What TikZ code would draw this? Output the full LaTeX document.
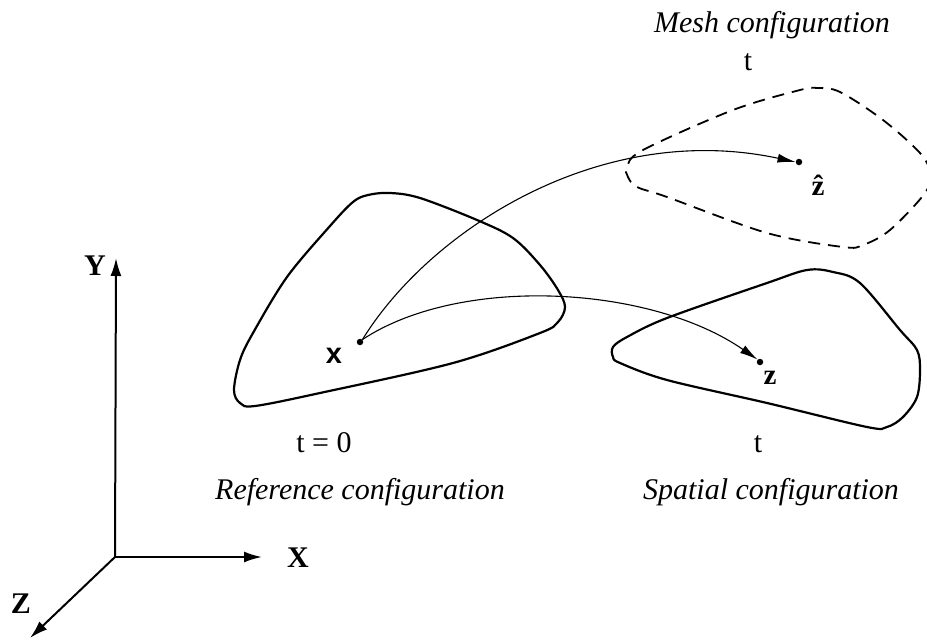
\documentclass[tikz,border=0pt]{standalone}
\usepackage{fontspec}
\setmainfont{Liberation Serif}
\newfontfamily\lsans{Liberation Sans}
\usetikzlibrary{arrows.meta}
\begin{document}
\begin{tikzpicture}[x=1pt,y=-1pt,
  blob/.style={line width=2.2pt,line join=round},
  meshblob/.style={line width=1.8pt,dash pattern=on 12pt off 8pt},
  mapping/.style={line width=1.1pt,-{Latex[length=18pt,width=9pt]}},
  axis/.style={line width=2pt,-{Latex[length=18pt,width=11pt]}},
  pt/.style={circle,fill=black,inner sep=0pt,minimum size=6.5pt},
  lab/.style={font=\fontsize{30}{34}\selectfont,anchor=base,inner sep=0pt},
  ilab/.style={font=\fontsize{30}{34}\selectfont\itshape,anchor=base,inner sep=0pt},
  blab/.style={font=\fontsize{29}{32}\selectfont\bfseries,inner sep=0pt},
  axlab/.style={font=\fontsize{30}{32}\selectfont\bfseries,inner sep=0pt}]
\useasboundingbox (0,0) rectangle (927,643);
% reference configuration
\draw[blob] plot[smooth cycle,tension=0.55] coordinates {(353,202) (368,195) (390,193) (420,198) (477,220) (513,238) (540,265) (558,290) (565,307) (558,322) (540,333) (453,363) (320,393) (255,406) (240,403) (234,390) (240,360) (253,333) (287,277) (330,226)};
% spatial configuration
\draw[blob] plot[smooth cycle,tension=0.55] coordinates {(613,347) (627,337) (667,318) (767,283) (807,270) (833,272) (860,283) (900,330) (917,350) (920,370) (917,397) (903,417) (887,427) (867,427) (767,403) (667,380) (620,363) (613,357)};
% mesh configuration
\draw[meshblob] plot[smooth cycle,tension=0.55] coordinates {(627,167) (643,150) (733,110) (800,90) (817,88) (840,92) (883,120) (920,153) (930,173) (925,193) (890,230) (863,245) (843,247) (767,233) (667,197) (637,187) (628,177)};
% points
\node[pt] (x) at (360,342) {};
\node[pt] (z) at (760,362) {};
\node[pt] (zh) at (799,162) {};
\node[font=\fontsize{29}{32}\selectfont\lsans\bfseries,inner sep=0pt] (xl) at (334,356) {x};
\node[blab] (zl) at (770,378) {z};
\node[blab,anchor=base] (zhl) at (818,195) {\^{z}};
% mappings
\draw[mapping] (x.north east) .. controls (430,230) and (600,120) .. (zh.west);
\draw[mapping] (x.north east) .. controls (460,275) and (650,285) .. (z.north west);
% labels
\node[lab] (t0) at (324,452) {t = 0};
\node[ilab] (refc) at (360,499) {Reference configuration};
\node[lab] (ts) at (758,452) {t};
\node[ilab] (spc) at (771,499) {Spatial configuration};
\node[ilab] (mc) at (772,32) {Mesh configuration};
\node[lab] (tm) at (748,70) {t};
% axes
\coordinate (o) at (115,557);
\coordinate (yt) at (116,258);
\coordinate (xt) at (262,557);
\coordinate (zt) at (30,638);
\draw[axis] (o) -- (yt);
\draw[axis] (o) -- (xt);
\draw[axis] (o) -- (zt);
\node[axlab] (Y) at (95,266) {Y};
\node[axlab] (X) at (298,558) {X};
\node[axlab] (Z) at (21,604) {Z};
\end{tikzpicture}
\end{document}
